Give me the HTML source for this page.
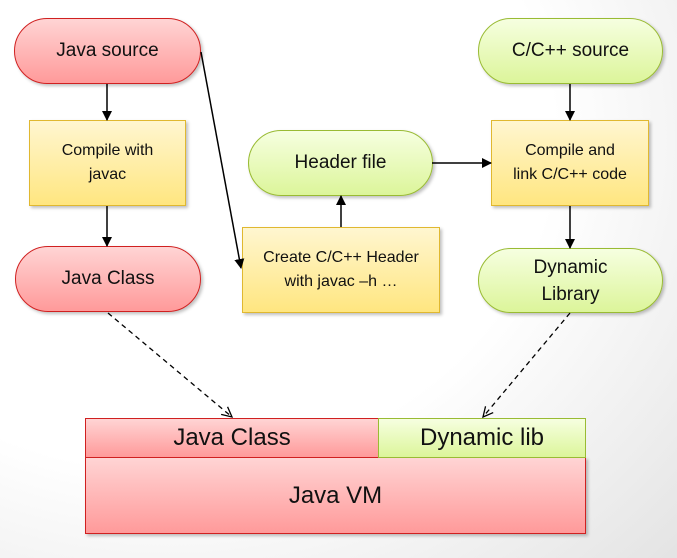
<!DOCTYPE html>
<html><head><style>
body{margin:0;width:677px;height:558px;overflow:hidden;background:radial-gradient(ellipse 700px 600px at 25% 25%,#fff 55%,#e4e4e4 100%);font-family:"Liberation Sans",sans-serif;}
.n{position:absolute;box-sizing:border-box;display:flex;align-items:center;justify-content:center;text-align:center;color:#111;box-shadow:2px 2px 3px rgba(0,0,0,.25);}
.r{background:linear-gradient(#ffd4d4,#ff9a9a);border:1.5px solid #d02020;}
.g{background:linear-gradient(#f6ffe0,#dcf59a);border:1.5px solid #99bb33;}
.y{background:linear-gradient(#fff6d0,#ffe680);border:1.5px solid #e0b830;}
.p{border-radius:33px;font-size:19px;}
.b{font-size:16px;line-height:24px;}
svg{position:absolute;left:0;top:0}
</style></head><body>
<div class="n r p" style="left:14px;top:18px;width:187px;height:66px">Java source</div>
<div class="n y b" style="left:29px;top:120px;width:157px;height:86px">Compile with<br>javac</div>
<div class="n r p" style="left:15px;top:246px;width:186px;height:66px">Java Class</div>
<div class="n g p" style="left:248px;top:130px;width:185px;height:66px">Header file</div>
<div class="n y b" style="left:242px;top:227px;width:198px;height:86px">Create C/C++ Header<br>with javac –h …</div>
<div class="n g p" style="left:478px;top:18px;width:185px;height:66px">C/C++ source</div>
<div class="n y b" style="left:491px;top:120px;width:158px;height:86px">Compile and<br>link C/C++ code</div>
<div class="n g p" style="left:478px;top:248px;width:185px;height:65px;line-height:27px">Dynamic<br>Library</div>
<div class="n r" style="left:85px;top:457px;width:501px;height:77px;font-size:24px">Java VM</div>
<div class="n r" style="left:85px;top:418px;width:294px;height:40px;font-size:24px;box-shadow:none">Java Class</div>
<div class="n g" style="left:378px;top:418px;width:208px;height:40px;font-size:24px;box-shadow:none">Dynamic lib</div>
<svg width="677" height="558">
<defs><marker id="a" markerWidth="10" markerHeight="10" refX="9" refY="5" orient="auto" markerUnits="userSpaceOnUse"><path d="M0,0L10,5L0,10z" fill="#000"/></marker>
<marker id="o" markerWidth="12" markerHeight="12" refX="10" refY="6" orient="auto" markerUnits="userSpaceOnUse"><path d="M0,1L10,6L0,11" fill="none" stroke="#000" stroke-width="1.3"/></marker></defs>
<g stroke="#000" stroke-width="1.5" fill="none" marker-end="url(#a)">
<line x1="107" y1="84" x2="107" y2="120"/>
<line x1="107" y1="206" x2="107" y2="246"/>
<line x1="201" y1="52" x2="241" y2="268"/>
<line x1="341" y1="227" x2="341" y2="196"/>
<line x1="432" y1="163" x2="491" y2="163"/>
<line x1="570" y1="84" x2="570" y2="120"/>
<line x1="570" y1="206" x2="570" y2="248"/>
</g>
<g stroke="#000" stroke-width="1.3" fill="none" stroke-dasharray="5,4" marker-end="url(#o)">
<line x1="108" y1="313" x2="232" y2="417"/>
<line x1="570" y1="313" x2="483" y2="417"/>
</g>
</svg>
</body></html>
